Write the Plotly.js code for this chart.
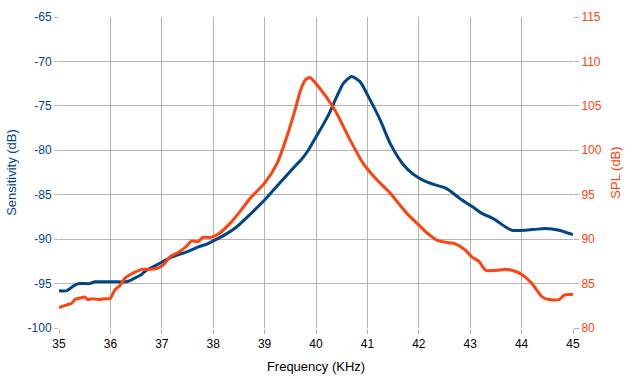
<!DOCTYPE html>
<html><head><meta charset="utf-8">
<script src="https://cdn.plot.ly/plotly-3.0.1.min.js"></script>
<style>html,body{margin:0;padding:0;background:#fff}#c{width:632px;height:379px}</style>
</head><body><div id="c"></div>
<script>
const sensFreq = [35.0,35.15,35.3,35.4,35.6,35.7,36.0,36.1,36.3,36.4,36.5,36.6,36.7,36.8,37.0,37.2,37.5,37.7,37.9,38.0,38.2,38.46,38.72,39.0,39.2,39.4,39.59,39.72,39.85,40.0,40.17,40.27,40.4,40.53,40.69,40.86,41.05,41.25,41.44,41.67,41.87,42.06,42.32,42.5,42.59,42.84,43.03,43.23,43.48,43.68,43.81,44.07,44.26,44.46,44.73,45.0];
const sensDb = [-95.8,-95.8,-95.2,-95.0,-95.0,-94.8,-94.8,-94.8,-94.8,-94.6,-94.3,-94.0,-93.5,-93.2,-92.6,-92.0,-91.4,-90.9,-90.5,-90.2,-89.6,-88.6,-87.2,-85.6,-84.3,-83.0,-81.8,-81.0,-80.0,-78.5,-76.8,-75.7,-74.0,-72.5,-71.7,-72.3,-74.3,-76.6,-79.2,-81.4,-82.6,-83.3,-83.9,-84.2,-84.5,-85.6,-86.3,-87.1,-87.8,-88.6,-89.0,-89.0,-88.9,-88.8,-89.0,-89.5];
const splFreq = [35.0,35.15,35.25,35.31,35.43,35.5,35.56,35.65,35.78,35.9,35.99,36.09,36.19,36.28,36.38,36.48,36.61,36.77,36.9,37.03,37.16,37.35,37.48,37.58,37.7,37.8,37.96,38.13,38.33,38.52,38.72,39.0,39.24,39.43,39.59,39.69,39.79,39.88,40.0,40.2,40.4,40.66,40.92,41.18,41.44,41.61,41.8,42.0,42.16,42.35,42.58,42.7,42.9,43.03,43.17,43.3,43.56,43.68,43.81,44.01,44.2,44.4,44.53,44.73,44.83,45.0];
const splDb = [82.3,82.6,82.8,83.2,83.4,83.5,83.2,83.3,83.2,83.3,83.3,84.3,84.8,85.6,86.0,86.3,86.6,86.6,86.7,87.1,88.0,88.6,89.2,89.8,89.7,90.2,90.2,90.7,91.8,93.1,94.6,96.3,98.5,101.5,104.5,106.6,107.9,108.2,107.5,106.0,104.2,101.2,98.5,96.7,95.2,94.0,92.7,91.6,90.7,89.9,89.6,89.5,88.8,88.0,87.5,86.5,86.5,86.6,86.5,86.0,85.0,83.5,83.2,83.2,83.7,83.8];
const xTicks = [35,36,37,38,39,40,41,42,43,44,45];
const leftTicks = [-100,-95,-90,-85,-80,-75,-70,-65];
const rightTicks = [80,85,90,95,100,105,110,115];

const BLUE = '#004586', ORANGE = '#ff420e', GRID = '#b3b3b3';
const FAM = 'Liberation Sans, Arial, sans-serif';

Plotly.newPlot('c', [
  {x: sensFreq, y: sensDb, type:'scatter', mode:'lines', name:'Sensitivity', line:{color:BLUE, width:3, shape:'spline', smoothing:0.6}, yaxis:'y'},
  {x: splFreq, y: splDb, type:'scatter', mode:'lines', name:'SPL', line:{color:ORANGE, width:3, shape:'spline', smoothing:0.6}, yaxis:'y2'}
], {
  width:632, height:379,
  margin:{l:59, r:59, t:17, b:51},
  paper_bgcolor:'#fff', plot_bgcolor:'#fff',
  showlegend:false,
  font: {family:FAM, size:12},
  xaxis:{range:[35,45], tickvals:xTicks, ticktext:xTicks.map(String), showgrid:true, gridcolor:GRID, gridwidth:1,
    zeroline:false, showline:false, ticks:'outside', ticklen:5, tickcolor:GRID,
    tickfont:{family:FAM, size:12, color:'#000'},
    title:{text:'Frequency (KHz)', font:{family:FAM, size:13, color:'#000'}, standoff:11}},
  yaxis:{range:[-100,-65], tickvals:leftTicks, ticktext:leftTicks.map(String), showgrid:true, gridcolor:GRID,
    zeroline:false, showline:false, ticks:'outside', ticklen:4, tickcolor:GRID,
    tickfont:{family:FAM, size:12, color:BLUE},
    title:{text:'Sensitivity (dB)', font:{family:FAM, size:13, color:BLUE}, standoff:8}},
  yaxis2:{range:[80,115], tickvals:rightTicks, ticktext:rightTicks.map(String), overlaying:'y', side:'right', showgrid:false,
    zeroline:false, showline:false, ticks:'outside', ticklen:5, tickcolor:GRID,
    tickfont:{family:FAM, size:12, color:ORANGE},
    title:{text:'SPL (dB)', font:{family:FAM, size:13, color:ORANGE}, standoff:10}}
}, {displayModeBar:false, staticPlot:true});
</script></body></html>
